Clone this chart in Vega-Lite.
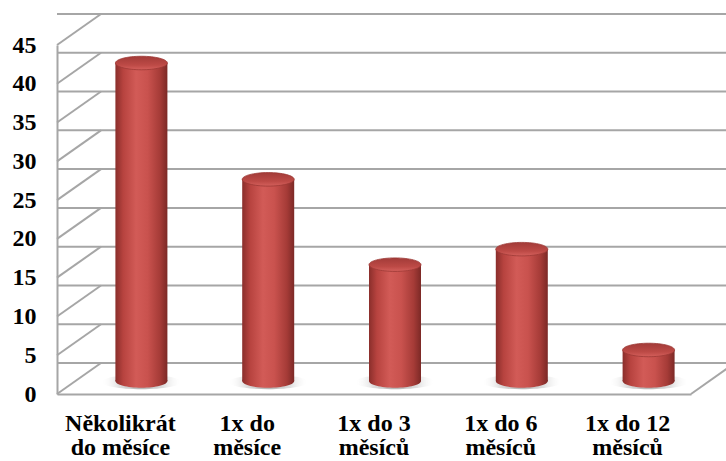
{
  "$schema": "https://vega.github.io/schema/vega-lite/v6.json",
  "width": 634,
  "height": 349,
  "padding": {"left": 57, "top": 45, "right": 35, "bottom": 67},
  "autosize": {"type": "none"},
  "background": "white",
  "config": {
    "view": {"stroke": null},
    "font": "Liberation Serif",
    "axis": {
      "labelFont": "Liberation Serif",
      "labelFontWeight": "bold",
      "labelColor": "#000000",
      "labelOverlap": false,
      "domainColor": "#a6a6a6",
      "domainWidth": 2,
      "ticks": false,
      "grid": false,
      "title": null
    }
  },
  "datasets": {
    "freq": [
      {"kategorie": "Několikrát do měsíce", "hodnota": 41},
      {"kategorie": "1x do měsíce", "hodnota": 26},
      {"kategorie": "1x do 3 měsíců", "hodnota": 15},
      {"kategorie": "1x do 6 měsíců", "hodnota": 17},
      {"kategorie": "1x do 12 měsíců", "hodnota": 4}
    ],
    "levels": [
      {"v": 0}, {"v": 5}, {"v": 10}, {"v": 15}, {"v": 20},
      {"v": 25}, {"v": 30}, {"v": 35}, {"v": 40}, {"v": 45}
    ]
  },
  "resolve": {"scale": {"y": "shared"}},
  "layer": [
    {
      "description": "back wall gridlines",
      "data": {"name": "levels"},
      "mark": {"type": "rule", "color": "#a6a6a6", "strokeWidth": 2, "xOffset": 44, "x2Offset": 44, "yOffset": -31},
      "encoding": {
        "y": {"field": "v", "type": "quantitative", "scale": {"domain": [0, 45], "nice": false},
          "axis": {"values": [0, 5, 10, 15, 20, 25, 30, 35, 40, 45], "tickCount": 10, "labelFontSize": 24, "labelPadding": 21, "domain": true}}
      }
    },
    {
      "description": "side wall diagonals",
      "data": {"name": "levels"},
      "mark": {"type": "rule", "color": "#a6a6a6", "strokeWidth": 2, "y2Offset": -31},
      "encoding": {
        "x": {"value": 0},
        "x2": {"value": 44},
        "y": {"field": "v", "type": "quantitative"},
        "y2": {"field": "v"}
      }
    },
    {
      "description": "floor right edge",
      "data": {"values": [{"v": 0}]},
      "mark": {"type": "rule", "color": "#a6a6a6", "strokeWidth": 2, "y2Offset": -31},
      "encoding": {
        "x": {"value": 634},
        "x2": {"value": 678},
        "y": {"field": "v", "type": "quantitative"},
        "y2": {"field": "v"}
      }
    },
    {
      "data": {"name": "freq"},
      "encoding": {
        "x": {
          "field": "kategorie",
          "type": "nominal",
          "sort": null,
          "scale": {"paddingInner": 0, "paddingOuter": 0},
          "axis": {
            "labelAngle": 0,
            "labelFontSize": 24,
            "labelPadding": 17,
            "labelLineHeight": 24,
            "labelBaseline": "top",
            "labelExpr": "indexof(datum.label, '1x') == 0 ? [slice(datum.label, 0, lastindexof(datum.label, ' ')), slice(datum.label, lastindexof(datum.label, ' ') + 1)] : [slice(datum.label, 0, indexof(datum.label, ' ')), slice(datum.label, indexof(datum.label, ' ') + 1)]"
          }
        }
      },
      "layer": [
        {
          "description": "soft shadow under each cylinder",
          "mark": {
            "type": "point",
            "filled": true,
            "opacity": 1,
            "shape": "M-1,0A1,0.18,0,1,1,1,0A1,0.18,0,1,1,-1,0Z",
            "size": 6400,
            "xOffset": 21,
            "yOffset": -12,
            "fill": {
              "gradient": "radial",
              "x1": 0.5, "y1": 0.5, "r1": 0,
              "x2": 0.5, "y2": 0.5, "r2": 0.5,
              "stops": [
                {"offset": 0, "color": "rgba(70,70,70,0.5)"},
                {"offset": 0.55, "color": "rgba(120,120,120,0.25)"},
                {"offset": 1, "color": "rgba(255,255,255,0)"}
              ]
            }
          },
          "encoding": {"y": {"datum": 0, "type": "quantitative"}}
        },
        {
          "description": "rounded base of each cylinder",
          "mark": {
            "type": "point",
            "filled": true,
            "opacity": 1,
            "shape": "M-1,0A1,0.26,0,1,1,1,0A1,0.26,0,1,1,-1,0Z",
            "size": 2704,
            "xOffset": 21,
            "yOffset": -13,
            "fill": {
              "gradient": "linear", "x1": 0, "y1": 0, "x2": 1, "y2": 0,
              "stops": [
                {"offset": 0, "color": "#8a2e2b"},
                {"offset": 0.15, "color": "#b7433f"},
                {"offset": 0.4, "color": "#d25b57"},
                {"offset": 0.62, "color": "#c9524e"},
                {"offset": 0.86, "color": "#a53b37"},
                {"offset": 1, "color": "#7c2926"}
              ]
            }
          },
          "encoding": {"y": {"datum": 0, "type": "quantitative"}}
        },
        {
          "description": "cylinder body",
          "mark": {
            "type": "bar",
            "width": 52,
            "xOffset": 21,
            "yOffset": -13,
            "y2Offset": -13,
            "fill": {
              "gradient": "linear", "x1": 0, "y1": 0, "x2": 1, "y2": 0,
              "stops": [
                {"offset": 0, "color": "#8a2e2b"},
                {"offset": 0.15, "color": "#b7433f"},
                {"offset": 0.4, "color": "#d25b57"},
                {"offset": 0.62, "color": "#c9524e"},
                {"offset": 0.86, "color": "#a53b37"},
                {"offset": 1, "color": "#7c2926"}
              ]
            }
          },
          "encoding": {
            "y": {"field": "hodnota", "type": "quantitative"}
          }
        },
        {
          "description": "cylinder top",
          "mark": {
            "type": "point",
            "filled": true,
            "opacity": 1,
            "shape": "M-1,0A1,0.26,0,1,1,1,0A1,0.26,0,1,1,-1,0Z",
            "size": 2704,
            "xOffset": 21,
            "yOffset": -13,
            "stroke": "#9c3835",
            "strokeWidth": 0.8,
            "fill": {
              "gradient": "linear", "x1": 0, "y1": 0, "x2": 0, "y2": 1,
              "stops": [
                {"offset": 0, "color": "#a23b38"},
                {"offset": 0.65, "color": "#bd4a46"},
                {"offset": 1, "color": "#d4605c"}
              ]
            }
          },
          "encoding": {
            "y": {"field": "hodnota", "type": "quantitative"}
          }
        }
      ]
    }
  ]
}
